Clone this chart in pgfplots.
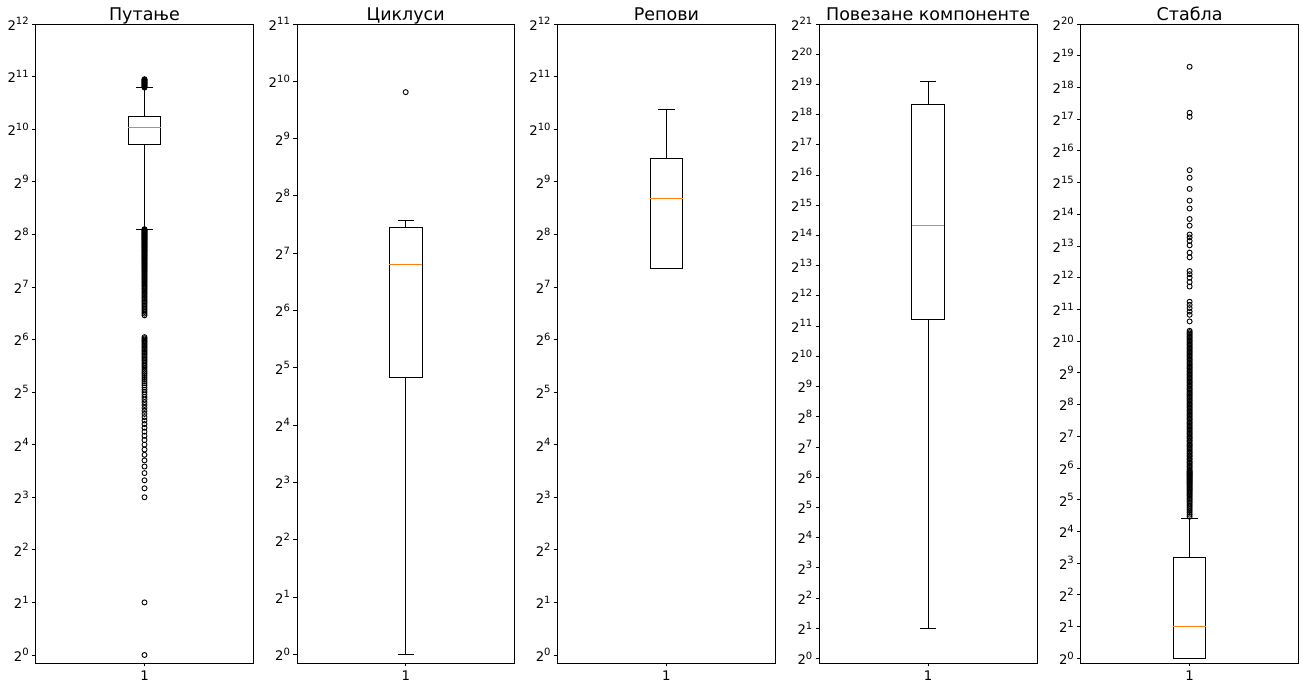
\documentclass[border=0pt]{standalone}
\usepackage{fontspec}
\setmainfont{DejaVu Sans}
\usepackage{pgfplots}
\usepackage{pgfplotstable}
\usepgfplotslibrary{statistics}
\pgfplotsset{compat=1.18}
\definecolor{mplorange}{HTML}{FF7F0E}

% y axes are log2 scale: box statistics are given as log2 of the values,
% outliers are given as raw values and plotted at log2(value)

% outliers of panel 1
\pgfplotstableread[row sep=\\]{
v\\ 1\\ 2\\
8\\ 9\\ 10\\ 11\\ 12\\ 13\\ 14\\ 15\\ 16\\ 17\\ 18\\ 19\\ 20\\ 21\\ 22\\ 23\\ 24\\ 25\\ 26\\ 27\\ 28\\ 29\\
30\\ 31\\ 32\\ 33\\ 34\\ 35\\ 36\\ 37\\ 38\\ 39\\ 40\\ 41\\ 42\\ 43\\ 44\\ 45\\ 46\\ 47\\ 48\\ 49\\
50\\ 51\\ 52\\ 53\\ 54\\ 55\\ 56\\ 57\\ 58\\ 59\\ 60\\ 61\\ 62\\ 63\\ 64\\ 65\\ 66\\
88\\ 90\\ 92\\ 94\\ 96\\ 98\\ 100\\ 102\\ 104\\ 106\\ 108\\ 110\\ 112\\ 114\\ 116\\ 118\\ 120\\
122\\ 124\\ 126\\ 128\\ 130\\ 132\\ 134\\ 136\\ 138\\ 140\\ 142\\ 144\\ 146\\ 148\\ 150\\
152\\ 154\\ 156\\ 158\\ 160\\ 162\\ 164\\ 166\\ 168\\ 170\\ 172\\ 174\\ 176\\ 178\\ 180\\
182\\ 184\\ 186\\ 188\\ 190\\ 192\\ 194\\ 196\\ 198\\ 200\\ 202\\ 204\\ 206\\ 208\\ 210\\
212\\ 214\\ 216\\ 218\\ 220\\ 222\\ 224\\ 226\\ 228\\ 230\\ 232\\ 234\\ 236\\ 238\\ 240\\
242\\ 244\\ 246\\ 248\\ 250\\ 252\\ 254\\ 256\\ 258\\ 260\\ 262\\ 264\\ 266\\ 268\\ 270\\ 272\\ 274\\
1772\\ 1785\\ 1800\\ 1815\\ 1830\\ 1845\\ 1860\\ 1875\\ 1890\\ 1905\\ 1920\\ 1935\\ 1950\\ 1965\\ 1978\\
}\outA

% outliers of panel 2
\pgfplotstableread[row sep=\\]{
v\\ 898\\
}\outB

% outliers of panel 5
\pgfplotstableread[row sep=\\]{
v\\
22\\ 23\\ 24\\ 25\\ 26\\ 27\\ 28\\ 29\\ 30\\ 31\\ 32\\ 33\\ 34\\ 35\\ 36\\ 37\\ 38\\ 39\\ 40\\
41\\ 42\\ 43\\ 44\\ 45\\ 46\\ 47\\ 48\\ 49\\ 50\\ 51\\ 52\\ 53\\ 54\\ 55\\ 56\\ 57\\ 58\\ 59\\ 60\\
62\\ 64\\ 66\\ 68\\ 70\\ 72\\ 74\\ 77\\ 79\\ 82\\ 84\\ 87\\ 89\\ 92\\ 95\\ 98\\ 101\\ 104\\ 107\\ 110\\
114\\ 117\\ 121\\ 124\\ 128\\ 132\\ 136\\ 140\\ 144\\ 149\\ 153\\ 158\\ 163\\ 168\\ 173\\ 178\\
184\\ 189\\ 195\\ 201\\ 207\\ 213\\ 220\\ 226\\ 233\\ 240\\ 248\\ 255\\ 263\\ 271\\ 279\\ 288\\
296\\ 305\\ 315\\ 324\\ 334\\ 344\\ 355\\ 365\\ 377\\ 388\\ 400\\ 412\\ 425\\ 437\\ 451\\ 464\\
479\\ 493\\ 508\\ 523\\ 539\\ 556\\ 572\\ 590\\ 608\\ 626\\ 645\\ 665\\ 685\\ 706\\ 727\\ 749\\
772\\ 795\\ 819\\ 844\\ 870\\ 896\\ 923\\ 951\\ 980\\ 1010\\ 1040\\ 1072\\ 1104\\ 1138\\ 1172\\ 1208\\ 1244\\ 1282\\
1574\\ 1820\\ 1951\\ 2106\\ 2261\\ 2419\\ 3373\\ 3717\\ 4096\\ 4420\\ 4739\\ 6383\\ 7082\\
8307\\ 9152\\ 9880\\ 10517\\ 12765\\ 14768\\ 18564\\ 22073\\ 28526\\ 36372\\ 42954\\
137650\\ 150600\\ 411400\\
}\outE

\pgfplotsset{
  mypanel/.style={
    scale only axis, width=217.6pt, height=639pt, anchor=south west,
    xmin=0.5, xmax=1.5, xtick={1}, xticklabels={1},
    ymin=-0.152,
    axis line style={black, line width=0.8pt},
    tick style={black, line width=0.8pt},
    tick align=outside, major tick length=3.5pt,
    xtick pos=bottom, ytick pos=left,
    minor tick num=0,
    ticklabel style={font=\fontsize{13.2}{14}\selectfont},
    xticklabel style={yshift=-1pt},
    yticklabel={\pgfmathtruncatemacro\ex{round(\tick)}2\raisebox{0.42em}{\fontsize{10}{10}\selectfont\ex}},
    every axis title/.style={at={(0.5,1)}, anchor=base, yshift=3.3pt, font=\fontsize{17.5}{17.5}\selectfont},
    boxplot/draw direction=y,
  },
  bx/.style={black, line width=1pt, mark=o, mark size=2.5pt, mark options={line width=0.9pt, solid}},
  boxplot/box extend=0.15,
  boxplot/whisker extend=0.075,
  boxplot/every median/.style={draw=mplorange, line width=1pt},
}

\begin{document}
\begin{tikzpicture}
\path[use as bounding box] (0,0) rectangle (1304pt,684pt);

\begin{axis}[mypanel, at={(35.7pt,21pt)}, ymax=12, title={Путање}, ytick={0,1,...,12}]
\addplot[bx, boxplot prepared={draw direction=y, draw position=1, lower whisker=8.10, lower quartile=9.71, median=10.03, upper quartile=10.24, upper whisker=10.79}]
  table[x index=0, y index=0, x expr=1, y expr={log2(\thisrow{v})}] {\outA};
\end{axis}

\begin{axis}[mypanel, at={(296.9pt,21pt)}, ymax=11, title={Циклуси}, ytick={0,1,...,11}]
\addplot[bx, boxplot prepared={draw direction=y, draw position=1, lower whisker=0, lower quartile=4.83, median=6.81, upper quartile=7.45, upper whisker=7.57}]
  table[x index=0, y index=0, x expr=1, y expr={log2(\thisrow{v})}] {\outB};
\end{axis}

\begin{axis}[mypanel, at={(557.6pt,21pt)}, ymax=12, title={Репови}, ytick={0,1,...,12}]
\addplot[bx, boxplot prepared={draw direction=y, draw position=1, lower whisker=7.35, lower quartile=7.35, median=8.68, upper quartile=9.44, upper whisker=10.37}]
  coordinates {};
\end{axis}

\begin{axis}[mypanel, at={(819.3pt,21pt)}, ymax=21, title={Повезане компоненте}, ytick={0,1,...,21}]
\addplot[bx, boxplot prepared={draw direction=y, draw position=1, lower whisker=1, lower quartile=11.21, median=14.33, upper quartile=18.35, upper whisker=19.11}]
  coordinates {};
\end{axis}

\begin{axis}[mypanel, at={(1080.8pt,21pt)}, ymax=20, title={Стабла}, ytick={0,1,...,20}]
\addplot[bx, boxplot prepared={draw direction=y, draw position=1, lower whisker=0, lower quartile=0, median=1, upper quartile=3.17, upper whisker=4.39}]
  table[x index=0, y index=0, x expr=1, y expr={log2(\thisrow{v})}] {\outE};
\end{axis}
\end{tikzpicture}
\end{document}
